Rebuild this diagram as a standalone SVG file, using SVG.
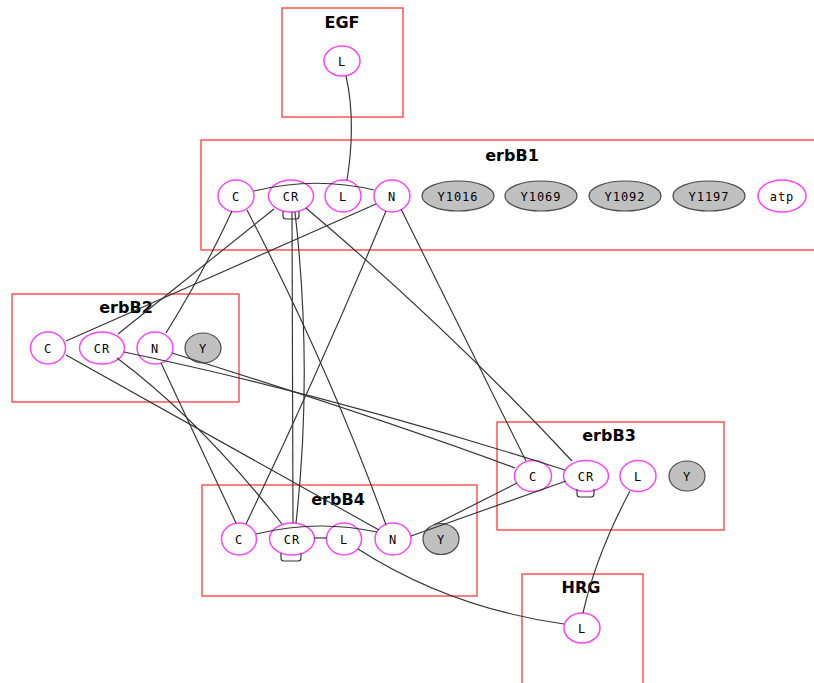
<svg xmlns="http://www.w3.org/2000/svg" width="814" height="683" viewBox="0 0 814 683">
<style>
.box{fill:none;stroke:#ff5555;stroke-width:1.5}
.title{font-family:"DejaVu Sans",sans-serif;font-weight:bold;font-size:16px;fill:#000;text-anchor:middle}
.n{fill:#fff;stroke:#ff44ff;stroke-width:1.5}
.g{fill:#c0c0c0;stroke:#4a4a4a;stroke-width:1.2}
.lbl{font-family:"DejaVu Sans Mono",monospace;font-size:12px;fill:#000;text-anchor:middle;letter-spacing:1px}
.e{fill:none;stroke:#333;stroke-width:1.15}
</style>
<rect width="814" height="683" fill="#fff"/>

<g id="EGF">
<rect class="box" x="282" y="8" width="121" height="109"/>
<text class="title" x="342" y="28">EGF</text>
<g id="EGF_L"><ellipse class="n" cx="342" cy="61" rx="18" ry="15"/><text class="lbl" x="342" y="65.5">L</text></g>
</g>

<g id="erbB1">
<rect class="box" x="201" y="140" width="640" height="110"/>
<text class="title" x="512" y="161">erbB1</text>
<g id="erbB1_C"><ellipse class="n" cx="236" cy="196" rx="18" ry="16"/><text class="lbl" x="236" y="200.5">C</text></g>
<g id="erbB1_CR"><ellipse class="n" cx="291" cy="196" rx="22.5" ry="16"/><text class="lbl" x="291" y="200.5">CR</text></g>
<g id="erbB1_L"><ellipse class="n" cx="343" cy="196" rx="18" ry="16"/><text class="lbl" x="343" y="200.5">L</text></g>
<g id="erbB1_N"><ellipse class="n" cx="392" cy="196" rx="18" ry="16"/><text class="lbl" x="392" y="200.5">N</text></g>
<g id="erbB1_Y1016"><ellipse class="g" cx="458" cy="196" rx="36" ry="15"/><text class="lbl" x="458" y="200.5">Y1016</text></g>
<g id="erbB1_Y1069"><ellipse class="g" cx="541" cy="196" rx="36" ry="15"/><text class="lbl" x="541" y="200.5">Y1069</text></g>
<g id="erbB1_Y1092"><ellipse class="g" cx="625" cy="196" rx="36" ry="15"/><text class="lbl" x="625" y="200.5">Y1092</text></g>
<g id="erbB1_Y1197"><ellipse class="g" cx="709" cy="196" rx="36" ry="15"/><text class="lbl" x="709" y="200.5">Y1197</text></g>
<g id="erbB1_atp"><ellipse class="n" cx="782" cy="196" rx="24" ry="16"/><text class="lbl" x="782" y="200.5">atp</text></g>
</g>

<g id="erbB2">
<rect class="box" x="12" y="294" width="227" height="108"/>
<text class="title" x="126" y="313">erbB2</text>
<g id="erbB2_C"><ellipse class="n" cx="48" cy="348" rx="17.5" ry="16"/><text class="lbl" x="48" y="352.5">C</text></g>
<g id="erbB2_CR"><ellipse class="n" cx="102" cy="348" rx="22.5" ry="16"/><text class="lbl" x="102" y="352.5">CR</text></g>
<g id="erbB2_N"><ellipse class="n" cx="155" cy="348" rx="18" ry="16"/><text class="lbl" x="155" y="352.5">N</text></g>
<g id="erbB2_Y"><ellipse class="g" cx="203" cy="348" rx="18" ry="15"/><text class="lbl" x="203" y="352.5">Y</text></g>
</g>

<g id="erbB3">
<rect class="box" x="497" y="422" width="227" height="108"/>
<text class="title" x="609" y="441">erbB3</text>
<g id="erbB3_C"><ellipse class="n" cx="533" cy="476" rx="18.5" ry="15.5"/><text class="lbl" x="533" y="480.5">C</text></g>
<g id="erbB3_CR"><ellipse class="n" cx="586" cy="476" rx="22.5" ry="15.5"/><text class="lbl" x="586" y="480.5">CR</text></g>
<g id="erbB3_L"><ellipse class="n" cx="638" cy="476" rx="18" ry="15.5"/><text class="lbl" x="638" y="480.5">L</text></g>
<g id="erbB3_Y"><ellipse class="g" cx="687" cy="476" rx="18" ry="15"/><text class="lbl" x="687" y="480.5">Y</text></g>
</g>

<g id="erbB4">
<rect class="box" x="202" y="485" width="275" height="111"/>
<text class="title" x="338" y="505">erbB4</text>
<g id="erbB4_C"><ellipse class="n" cx="239" cy="539" rx="17.5" ry="16"/><text class="lbl" x="239" y="543.5">C</text></g>
<g id="erbB4_CR"><ellipse class="n" cx="292" cy="539" rx="22.5" ry="16"/><text class="lbl" x="292" y="543.5">CR</text></g>
<g id="erbB4_L"><ellipse class="n" cx="344" cy="539" rx="17.5" ry="16"/><text class="lbl" x="344" y="543.5">L</text></g>
<g id="erbB4_N"><ellipse class="n" cx="393" cy="539" rx="18" ry="16"/><text class="lbl" x="393" y="543.5">N</text></g>
<g id="erbB4_Y"><ellipse class="g" cx="441" cy="539" rx="18" ry="15.5"/><text class="lbl" x="441" y="543.5">Y</text></g>
</g>

<g id="HRG">
<rect class="box" x="522" y="574" width="121" height="115"/>
<text class="title" x="581" y="593">HRG</text>
<g id="HRG_L"><ellipse class="n" cx="582" cy="628" rx="18" ry="15"/><text class="lbl" x="582" y="632.5">L</text></g>
</g>

<g id="connectors">
<path class="e" d="M346 76 C354 110 352 150 347 180"/>
<path class="e" d="M254 191 Q315 176 374 190"/>
<path class="e" d="M283 211 L283 216 Q283 219 286 219 L296 219 Q299 219 299 216 L299 211"/>
<path class="e" d="M232 211 Q205 270 166 333"/>
<path class="e" d="M247 210 Q330 370 386 525"/>
<path class="e" d="M274 209 L118 334"/>
<path class="e" d="M292 212 L293 523"/>
<path class="e" d="M295 212 Q313 370 296 523"/>
<path class="e" d="M306 208 Q450 330 572 461"/>
<path class="e" d="M376 204 L66 341"/>
<path class="e" d="M386 211 Q322 365 246 524"/>
<path class="e" d="M401 209 L526 461"/>
<path class="e" d="M66 355 L379 530"/>
<path class="e" d="M117 358 Q200 420 282 524"/>
<path class="e" d="M161 363 L236 523"/>
<path class="e" d="M124 352 Q330 395 565 470"/>
<path class="e" d="M172 353 Q380 418 515 468"/>
<path class="e" d="M256 534 Q318 519 377 532"/>
<path class="e" d="M314 538 L327 538"/>
<path class="e" d="M281 553 L281 558 Q281 561 284 561 L298 561 Q301 561 301 558 L301 553"/>
<path class="e" d="M411 536 L566 481"/>
<path class="e" d="M434 525 L517 483"/>
<path class="e" d="M577 489 L577 494 Q577 497 580 497 L591 497 Q594 497 594 494 L594 489"/>
<path class="e" d="M358 549 Q450 608 564 624"/>
<path class="e" d="M630 491 Q596 555 583 613"/>
</g>
</svg>
